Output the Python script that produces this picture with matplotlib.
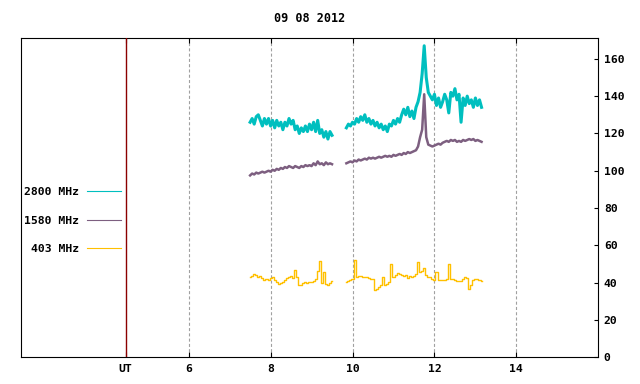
import numpy as np
from matplotlib import pyplot as plt

plt.rcParams['font.family'] = ['DejaVu Sans Mono']
plt.rcParams['font.weight'] = 'bold'
plt.rcParams['font.size'] = 8.2
plt.rcParams['lines.scale_dashes'] = False

title = "09 08 2012"
labels = ["2800 MHz", "1580 MHz", "403 MHz"]
colors = ["#00bfbf", "#7d5f80", "#ffc000"]
ut_pos = 4.46
x_ticks = [6, 8, 10, 12, 14]
y_ticks = [0, 20, 40, 60, 80, 100, 120, 140, 160]

# two recording intervals, sampled every 0.05 h (UT hours)
t_a = np.linspace(7.50, 9.50, 41)
t_b = np.linspace(9.85, 13.15, 67)

f2800_a = [126, 128, 125, 129, 130, 127, 124, 128, 125, 128,
           124, 127, 123, 127, 124, 126, 122, 126, 124, 128,
           125, 127, 122, 124, 120, 123, 121, 124, 121, 125,
           122, 126, 121, 127, 120, 122, 118, 121, 117, 121, 119]
f2800_b = [123, 125, 124, 126, 125, 128, 126, 129, 127, 130,
           126, 128, 125, 127, 124, 126, 123, 125, 122, 124,
           121, 125, 124, 127, 125, 128, 126, 130, 133, 130,
           134, 129, 132, 128, 134, 137, 142, 152,
           167, 150, 142, 140, 138, 141, 135, 139, 134, 137,
           141, 138, 131, 142, 140, 144, 138, 141, 126, 139,
           135, 140, 136, 138, 134, 139, 135, 138, 134]

f1580_a = [97.5, 98.5, 98, 99, 98.5, 99, 99.5, 99, 99.5, 100,
           99.5, 100.5, 100, 101, 100.5, 101.5, 101, 102, 101.5, 102.5,
           102, 101.5, 102.5, 102, 101.5, 102.5, 102, 103, 102.5, 103,
           102.5, 104, 103, 105, 103.5, 104, 103, 104.5, 103.5, 104, 103.5]
f1580_b = [104, 104.5, 105, 104.5, 105.5, 105, 106, 105.5, 106, 106.5,
           106, 107, 106.5, 107, 106.5, 107, 107.5, 107, 107.5, 108,
           107.5, 108, 107.5, 108.5, 108, 108.5, 109, 108.5, 109.5, 109,
           110, 109.5, 110, 110.5, 111, 113, 118, 122,
           141, 118, 114, 113.5, 113, 113.5, 114, 114.5, 114, 115,
           115.5, 116, 115.5, 116.5, 116, 116.5, 115.5, 116, 115.5, 116.5,
           116, 116.5, 117, 116.5, 117, 116, 116.5, 116, 115.5]

f403_a = [43, 43.5, 44.5, 44, 43, 43.5, 42.5, 41.5, 42, 41.5,
          42.5, 43, 41.5, 40.5, 39.5, 40, 40.5, 41.5, 42.5, 43,
          43.5, 42.5, 47, 43, 39, 38.5, 40, 40.5, 40, 40.5,
          40.5, 41, 42, 46, 51.5, 40, 45.5, 39.5, 39, 40, 41]
f403_b = [40.5, 41, 41.5, 42, 52, 43, 43.5, 43.5, 43, 43,
          43, 42.5, 42, 42, 36, 36.5, 37.5, 39, 43, 39,
          39.5, 40.5, 50, 43, 44, 45, 44.5, 44, 43.5, 44,
          42.5, 43.5, 43, 43.5, 44.5, 51, 45.5, 46.5, 48, 44,
          43, 43, 42, 41.5, 45.5, 41.5, 41.5, 41.5, 41.5, 42,
          50, 42, 42, 41.5, 41, 41, 41, 42, 43, 42.5,
          36.5, 38.5, 41.5, 42, 42, 41.5, 41]

series = [(f2800_a, f2800_b), (f1580_a, f1580_b), (f403_a, f403_b)]
widths = [2.2, 1.8, 1.0]
styles = ['default', 'default', 'steps-mid']

fig = plt.figure(figsize=(6.4, 3.84), dpi=100)
ax = fig.add_axes([20.7 / 640, 26.7 / 384, 577.6 / 640, 319 / 384])

handles = []
for (seg_a, seg_b), color, label, lw, ds in zip(series, colors, labels, widths, styles):
    h, = ax.plot(t_a, seg_a, color=color, lw=lw, drawstyle=ds, label=label, zorder=3)
    ax.plot(t_b, seg_b, color=color, lw=lw, drawstyle=ds, zorder=3)
    handles.append(h)

ax.axvline(ut_pos, color='#8b0000', lw=1.0, zorder=4)
for xt in x_ticks:
    ax.axvline(xt, color='#a0a0a0', lw=0.8, ls=(0, (2.2, 1.6)), zorder=1)

ax.set_xlim(1.9, 16.0)
ax.set_ylim(0, 171)
ax.set_xticks([ut_pos] + x_ticks)
ax.set_xticklabels(['UT'] + [str(v) for v in x_ticks])
ax.tick_params(axis='x', direction='in', top=True, bottom=True, length=3.6, width=0.8, pad=5)
ax.yaxis.tick_right()
ax.set_yticks(y_ticks)
ax.tick_params(axis='y', direction='in', right=True, left=False, length=2.9, width=0.8, pad=4)
for s in ax.spines.values():
    s.set_linewidth(0.8)

ax.set_title(title, fontsize=8.5, fontweight='bold', pad=12)

leg = ax.legend(handles=handles, loc='center right', bbox_to_anchor=(120.7 / 640, 1 - 220.7 / 384),
                bbox_transform=fig.transFigure, frameon=False, markerfirst=False,
                handlelength=2.95, handletextpad=0.7, labelspacing=1.6,
                borderpad=0, borderaxespad=0, fontsize=8.2)
for line in leg.get_lines():
    line.set_linewidth(0.8)

fig.savefig('out.png', dpi=100)
